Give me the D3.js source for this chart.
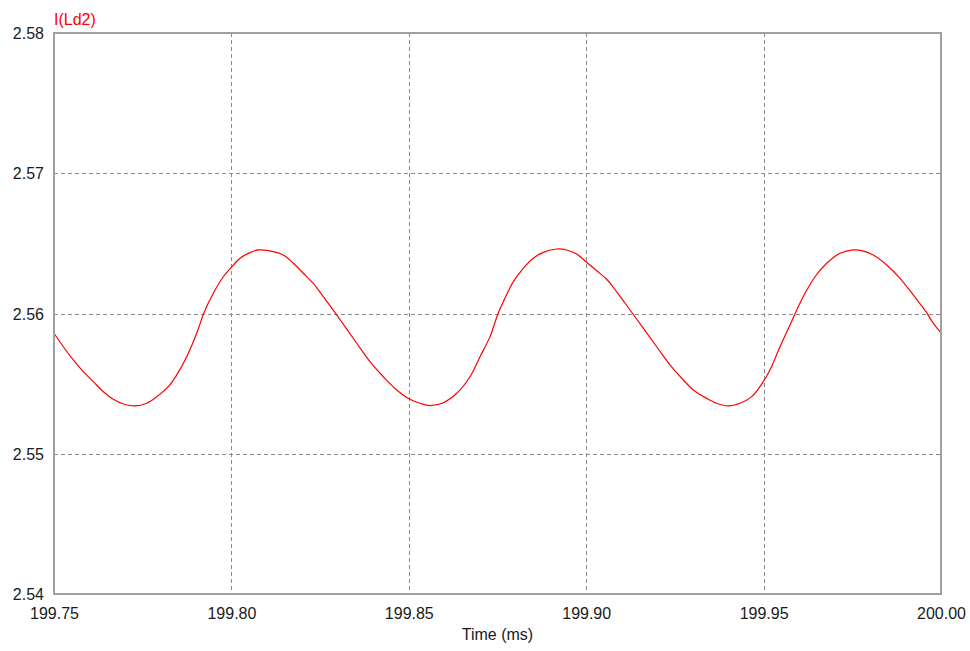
<!DOCTYPE html>
<html>
<head>
<meta charset="utf-8">
<script src="https://cdn.jsdelivr.net/npm/d3@7"></script>
<style>
  html, body { margin: 0; padding: 0; background: #ffffff; }
  svg { display: block; }
  text { font-family: "Liberation Sans", Arial, sans-serif; }
</style>
</head>
<body>
<svg id="chart" width="970" height="651"></svg>
<script>
// ---- data ----
const traceName = "I(Ld2)";
const xAxisTitle = "Time (ms)";
const xTicks = [199.75, 199.80, 199.85, 199.90, 199.95, 200.00];
const yTicks = [2.54, 2.55, 2.56, 2.57, 2.58];

const timeMs = [
  199.7500, 199.75262, 199.75544, 199.75826, 199.76108, 199.76390, 199.76671, 199.76953,
  199.77283, 199.77613, 199.77895, 199.78222, 199.78458, 199.78740, 199.79022, 199.79228,
  199.79490, 199.79772, 199.79989, 199.80242, 199.80524, 199.80758, 199.81040, 199.81463,
  199.81745, 199.82027, 199.82308, 199.82590, 199.82920, 199.83202, 199.83532, 199.83906,
  199.84281, 199.84659, 199.85034, 199.85316, 199.85598, 199.85973, 199.86350, 199.86725,
  199.87007, 199.87289, 199.87523, 199.87664, 199.87946, 199.88227, 199.88509, 199.88791,
  199.89169, 199.89451, 199.89732, 199.89994, 199.90296, 199.90578, 199.90860, 199.91235,
  199.91609, 199.91987, 199.92362, 199.92737, 199.93019, 199.93396, 199.93678, 199.94005,
  199.94335, 199.94665, 199.94991, 199.95180, 199.95462, 199.95744, 199.95913, 199.96167,
  199.96449, 199.96779, 199.97154, 199.97528, 199.97765, 199.98092, 199.98470, 199.98845,
  199.99219, 199.99577, 199.99783, 200.0000
];
const current = [
  2.55859, 2.55763, 2.55669, 2.55585, 2.55514, 2.55442, 2.55388, 2.55355,
  2.55341, 2.55360, 2.55407, 2.55478, 2.55562, 2.55692, 2.55859, 2.56006,
  2.56144, 2.56262, 2.56327, 2.56394, 2.56434, 2.56453, 2.56448, 2.56417,
  2.56358, 2.56287, 2.56215, 2.56120, 2.56006, 2.55906, 2.55788, 2.55656,
  2.55549, 2.55455, 2.55388, 2.55360, 2.55343, 2.55364, 2.55431, 2.55549,
  2.55692, 2.55835, 2.56006, 2.56084, 2.56227, 2.56322, 2.56394, 2.56436,
  2.56460, 2.56453, 2.56424, 2.56369, 2.56305, 2.56244, 2.56155, 2.56025,
  2.55895, 2.55763, 2.55633, 2.55526, 2.55455, 2.55395, 2.55360, 2.55341,
  2.55360, 2.55407, 2.55514, 2.55597, 2.55763, 2.55918, 2.56013, 2.56144,
  2.56262, 2.56358, 2.56429, 2.56453, 2.56448, 2.56417, 2.56346, 2.56251,
  2.56132, 2.56013, 2.55930, 2.55863
];

// ---- layout ----
const svg = d3.select("#chart");
const plot = { left: 54, top: 33, right: 941, bottom: 594 };

const x = d3.scaleLinear().domain([199.75, 200.00]).range([plot.left, plot.right]);
const y = d3.scaleLinear().domain([2.54, 2.58]).range([plot.bottom, plot.top]);

// grid lines (dashed)
const grid = svg.append("g").attr("class", "grid")
  .attr("stroke", "#8a8a8a").attr("stroke-width", 1).attr("stroke-dasharray", "4,3");
grid.selectAll("line.v").data(xTicks.slice(1, -1)).join("line")
  .attr("class", "v")
  .attr("x1", d => Math.round(x(d)) + 0.5).attr("x2", d => Math.round(x(d)) + 0.5)
  .attr("y1", plot.top).attr("y2", plot.bottom);
grid.selectAll("line.h").data(yTicks.slice(1, -1)).join("line")
  .attr("class", "h")
  .attr("x1", plot.left).attr("x2", plot.right)
  .attr("y1", d => Math.round(y(d)) + 0.5).attr("y2", d => Math.round(y(d)) + 0.5);

// trace
const pts = timeMs.map((t, i) => [t, current[i]]);
const line = d3.line().x(d => x(d[0])).y(d => y(d[1])).curve(d3.curveCatmullRom.alpha(0.5));
svg.append("path").datum(pts)
  .attr("fill", "none").attr("stroke", "#ff0000").attr("stroke-width", 1.2)
  .attr("d", line);

// frame
svg.append("rect")
  .attr("x", plot.left).attr("y", plot.top)
  .attr("width", plot.right - plot.left).attr("height", plot.bottom - plot.top)
  .attr("fill", "none").attr("stroke", "#a0a0a0").attr("stroke-width", 2);

// axes labels via d3 axes (no domain, no tick lines)
const xAxis = d3.axisBottom(x).tickValues(xTicks).tickFormat(d3.format(".2f")).tickSize(0).tickPadding(0);
const gx = svg.append("g").attr("transform", `translate(0, ${plot.bottom})`).call(xAxis);
gx.select(".domain").remove();
gx.selectAll("text").attr("dy", null).attr("y", 25)
  .attr("font-size", 16).attr("font-family", "Liberation Sans, Arial, sans-serif").attr("fill", "#1a1a1a");

const yAxis = d3.axisLeft(y).tickValues(yTicks).tickFormat(d3.format(".2f")).tickSize(0).tickPadding(0);
const gy = svg.append("g").attr("transform", `translate(${plot.left}, 0)`).call(yAxis);
gy.select(".domain").remove();
gy.selectAll("text").attr("x", -10).attr("dy", "0.35em")
  .attr("font-size", 16).attr("font-family", "Liberation Sans, Arial, sans-serif").attr("fill", "#1a1a1a");

// axis title
svg.append("text")
  .attr("x", (plot.left + plot.right) / 2).attr("y", 640)
  .attr("text-anchor", "middle").attr("font-size", 16).attr("fill", "#1a1a1a")
  .text(xAxisTitle);

// trace name
svg.append("text")
  .attr("x", plot.left).attr("y", 25)
  .attr("font-size", 16).attr("fill", "#ff0000")
  .text(traceName);
</script>
</body>
</html>
